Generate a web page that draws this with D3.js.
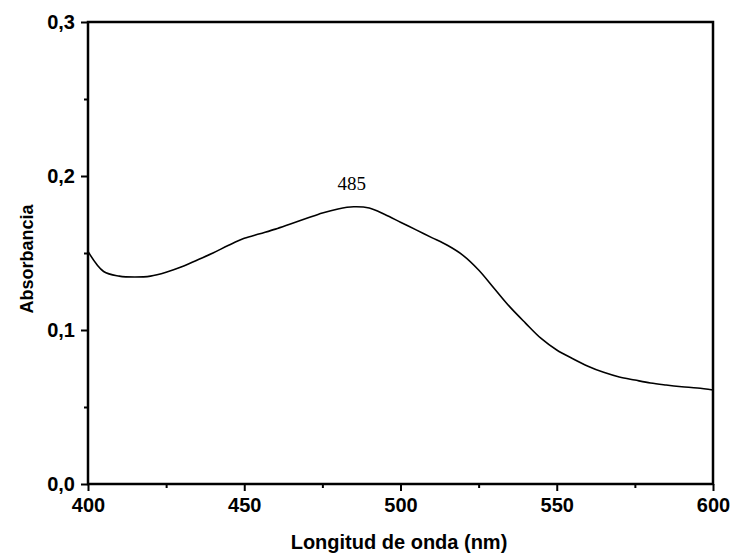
<!DOCTYPE html>
<html>
<head>
<meta charset="utf-8">
<script src="https://cdn.jsdelivr.net/npm/d3@7"></script>
<style>
  body { margin: 0; background: #fff; }
  svg text { fill: #000; }
  .tick-label { font-family: "Liberation Sans", Arial, sans-serif; font-weight: bold; font-size: 20px; }
  .axis-title { font-family: "Liberation Sans", Arial, sans-serif; font-weight: bold; }
  .peak { font-family: "Liberation Serif", "Times New Roman", serif; font-size: 19px; }
</style>
</head>
<body>
<svg id="chart" width="731" height="556"></svg>
<script>
// Absorption spectrum, wavelength (nm) vs absorbance.
const wavelengths = [400, 405, 410, 415, 420, 425, 430, 435, 440, 445, 450, 455, 460,
  465, 470, 475, 480, 485, 490, 495, 500, 505, 510, 515, 520, 525, 530, 535, 540,
  545, 550, 555, 560, 565, 570, 575, 580, 585, 590, 595, 600];
const absorbance = [0.151, 0.138, 0.1350, 0.1344, 0.135, 0.1375, 0.141, 0.1455, 0.150,
  0.1550, 0.1595, 0.1625, 0.1655, 0.1690, 0.1725, 0.1760, 0.1786, 0.180, 0.1792, 0.1750,
  0.170, 0.165, 0.160, 0.155, 0.1485, 0.139, 0.127, 0.115, 0.1045, 0.0945, 0.087,
  0.0815, 0.0765, 0.0725, 0.0695, 0.0675, 0.0656, 0.0643, 0.0632, 0.0623, 0.061];
const xTicks = [400, 450, 500, 550, 600];
const yTicks = [0.0, 0.1, 0.2, 0.3];
const peakLabel = {x: 485, y: 0.180, text: '485'};
const xTitle = 'Longitud de onda (nm)';
const yTitle = 'Absorbancia';

const margin = {top: 22, right: 18, bottom: 72, left: 88};
const width = 731, height = 556;

const svg = d3.select('#chart');
const g = svg.append('g')
    .attr('transform', 'translate(' + margin.left + ',' + margin.top + ')');
const w = width - margin.left - margin.right;
const h = height - margin.top - margin.bottom;

const x = d3.scaleLinear().domain([400, 600]).range([0, w]);
const y = d3.scaleLinear().domain([0, 0.3]).range([h, 0]);

// Spanish style decimal comma.
const fmt = d3.formatLocale({decimal: ',', thousands: '.', grouping: [3], currency: ['', '']})
    .format('.1f');

// Minor ticks first (shorter), then major ones with labels.
g.append('g')
    .attr('transform', 'translate(0,' + h + ')')
    .call(d3.axisBottom(x).tickValues(d3.range(425, 600, 50)).tickSize(4).tickFormat(''))
    .call(s => s.select('.domain').remove());
g.append('g')
    .call(d3.axisLeft(y).tickValues([0.05, 0.15, 0.25]).tickSize(4).tickFormat(''))
    .call(s => s.select('.domain').remove());

const xAxis = g.append('g')
    .attr('transform', 'translate(0,' + h + ')')
    .call(d3.axisBottom(x).tickValues(xTicks).tickSize(7).tickPadding(7).tickFormat(d3.format('d')));
xAxis.select('.domain').remove();
xAxis.selectAll('text').attr('class', 'tick-label');

const yAxis = g.append('g')
    .call(d3.axisLeft(y).tickValues(yTicks).tickSize(7).tickPadding(6).tickFormat(fmt));
yAxis.select('.domain').remove();
yAxis.selectAll('text').attr('class', 'tick-label');

g.selectAll('.tick line').attr('stroke', '#000').attr('stroke-width', 2);

// Frame around the plot.
g.append('rect')
    .attr('width', w).attr('height', h)
    .attr('fill', 'none').attr('stroke', '#000').attr('stroke-width', 2.5);

const line = d3.line()
    .x((d, i) => x(wavelengths[i]))
    .y(d => y(d))
    .curve(d3.curveCatmullRom);

g.append('path')
    .datum(absorbance)
    .attr('fill', 'none')
    .attr('stroke', '#000')
    .attr('stroke-width', 1.6)
    .attr('d', line);

g.append('text')
    .attr('class', 'peak')
    .attr('x', x(peakLabel.x) - 2)
    .attr('y', y(peakLabel.y) - 17)
    .attr('text-anchor', 'middle')
    .text(peakLabel.text);

svg.append('text')
    .attr('class', 'axis-title')
    .attr('x', 399)
    .attr('y', 549)
    .attr('font-size', 20)
    .attr('text-anchor', 'middle')
    .text(xTitle);

svg.append('text')
    .attr('class', 'axis-title')
    .attr('transform', 'translate(33,259) rotate(-90)')
    .attr('font-size', 18)
    .attr('text-anchor', 'middle')
    .text(yTitle);
</script>
</body>
</html>
